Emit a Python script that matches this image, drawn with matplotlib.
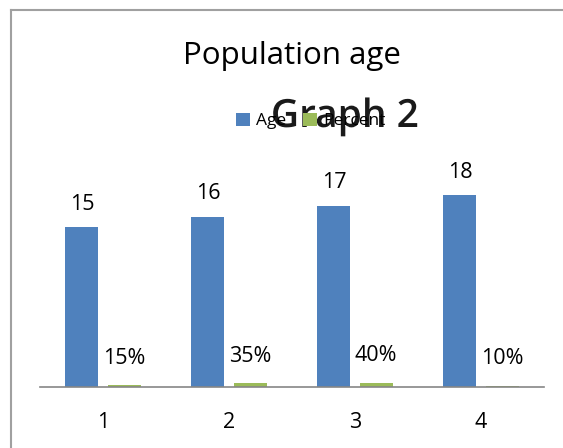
import matplotlib
matplotlib.use("Agg")
import matplotlib.pyplot as plt
import matplotlib.patheffects as pe
from matplotlib.lines import Line2D
import numpy as np

# chart data
categories = ["1", "2", "3", "4"]
age = [15, 16, 17, 18]
share = [0.15, 0.35, 0.40, 0.10]
share_labels = ["15%", "35%", "40%", "10%"]

BLUE = "#4f81bd"
GREEN = "#9bbb59"
W, H = 563, 448

plt.rcParams["font.family"] = ["Open Sans", "DejaVu Sans"]

fig = plt.figure(figsize=(W / 100, H / 100), dpi=100)
ax = fig.add_axes([40 / W, 61 / H, 504 / W, 213 / H])

x = np.arange(1, len(categories) + 1)
bw = 0.262
off = 0.167
ax.bar(x - off, age, width=bw, color=BLUE, label="Age")
ax.bar(x + off, share, width=bw, color=GREEN, label="Percent")

for xi, v in zip(x, age):
    ax.annotate(str(v), (xi - off, v), xytext=(0, 9), textcoords="offset points",
                ha="center", va="bottom", fontsize=15.5)
for xi, v, s in zip(x, share, share_labels):
    ax.annotate(s, (xi + off, v), xytext=(0, 12), textcoords="offset points",
                ha="center", va="bottom", fontsize=15.5)

ax.set_xlim(0.5, 4.5)
ax.set_ylim(0, 20)
ax.set_xticks(x)
ax.set_xticklabels(categories, fontsize=15.5)
ax.tick_params(axis="x", length=0, pad=18)
ax.set_yticks([])
for s in ["left", "right", "top"]:
    ax.spines[s].set_visible(False)
ax.spines["bottom"].set_color("#868686")
ax.spines["bottom"].set_linewidth(1.2)

# chart frame (top and left edges)
fig.add_artist(Line2D([11 / W, 1], [1 - 10 / H, 1 - 10 / H], color="#a0a0a0", lw=1.5))
fig.add_artist(Line2D([11 / W, 11 / W], [0, 1 - 10 / H], color="#a0a0a0", lw=1.5))

fig.text(292 / W, 1 - 56 / H, "Population age", ha="center", va="center", fontsize=22.5)

fig.legend(loc="center left", bbox_to_anchor=(236 / W, 1 - 121 / H), ncol=2, frameon=False,
           fontsize=12.5, handlelength=0.8, handleheight=0.8, handletextpad=0.35,
           columnspacing=1.0, borderaxespad=0, borderpad=0)

fig.text(345 / W, 1 - 117 / H, "Graph 2", ha="center", va="center", fontsize=28,
         fontweight="semibold", color="#1a1a1a",
         path_effects=[pe.withStroke(linewidth=5, foreground="white")])

fig.savefig("out.png", dpi=100)
